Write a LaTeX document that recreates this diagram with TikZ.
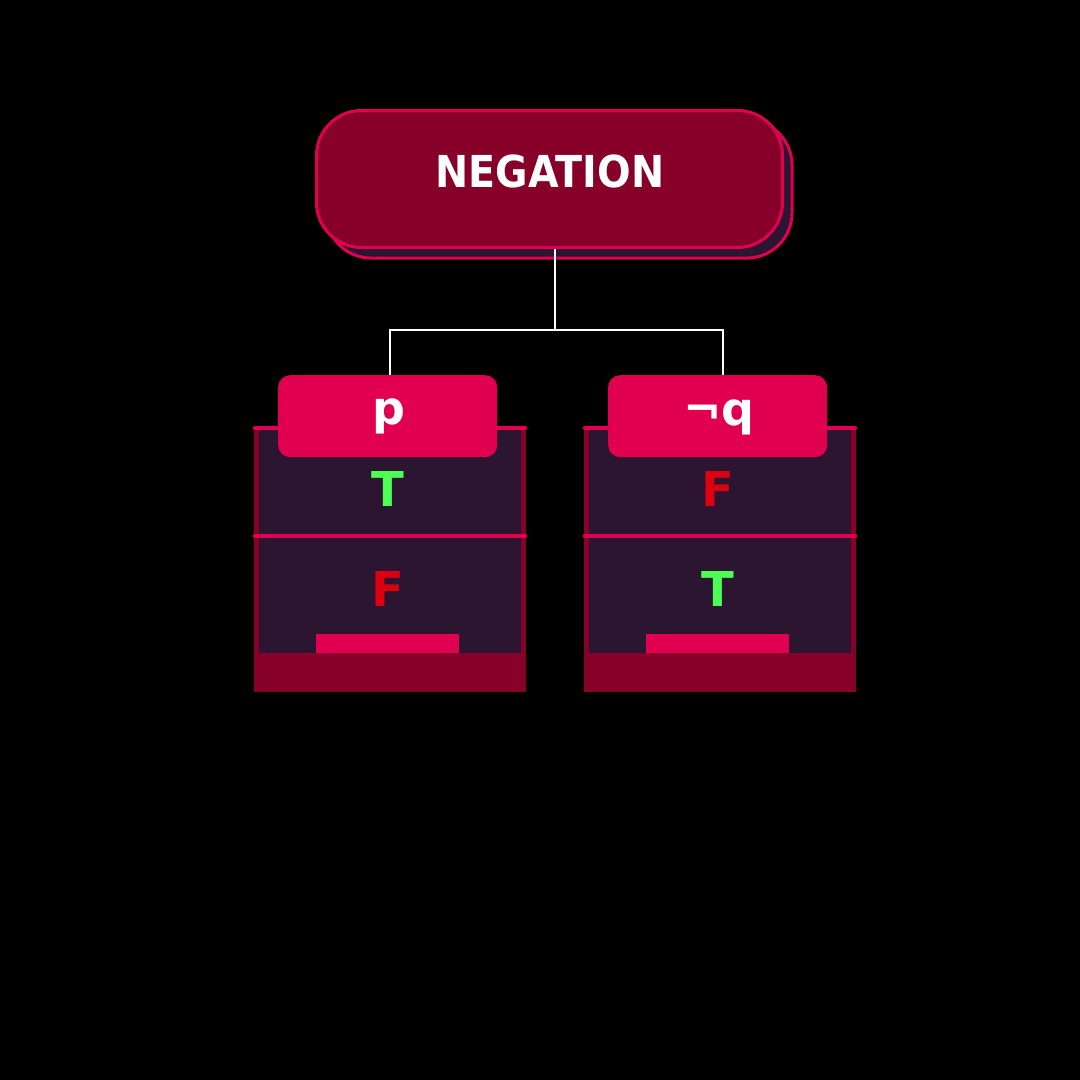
\documentclass[tikz,border=0pt]{standalone}
\usepackage{fontspec}
\newfontfamily\djb{DejaVu Sans}
\definecolor{crim}{HTML}{E0004F}
\definecolor{dred}{HTML}{86002A}
\definecolor{dpur}{HTML}{2C1530}
\definecolor{tgreen}{HTML}{4DFF55}
\definecolor{fred}{HTML}{DD0010}
\tikzset{
  wire/.style={draw=white, line width=2.5},
  headbox/.style={fill=crim, rounded corners=12, minimum width=219, minimum height=82, inner sep=0, anchor=north west},
  headtxt/.style={text=white, font=\djb\bfseries\fontsize{46}{46}\selectfont, inner sep=0},
  valT/.style={text=tgreen, font=\djb\bfseries\fontsize{48}{48}\selectfont, inner sep=0},
  valF/.style={text=fred, font=\djb\bfseries\fontsize{48}{48}\selectfont, inner sep=0},
  rule/.style={draw=crim, line width=4.5, line cap=round}
}
\begin{document}
\begin{tikzpicture}[x=1pt,y=-1pt]
\fill[black] (0,0) rectangle (1080,1080);
\useasboundingbox (0,0) rectangle (1080,1080);
% title
\draw[crim, line width=3, fill=dpur, rounded corners=45] (326,120) rectangle (792,258);
\node[draw=crim, line width=3, fill=dred, rounded corners=45, minimum width=466, minimum height=137, inner sep=0, anchor=north west] (title) at (315,109) {};
\node[text=white, font=\djb\bfseries\fontsize{44}{44}\selectfont, inner sep=0, xscale=0.9] (titletxt) at (550,171) {NEGATION};
% tables
\foreach \o in {0,330}{
  \fill[dpur] (254+\o,428) rectangle (526+\o,653);
  \fill[dred] (254+\o,653) rectangle (526+\o,692);
  \fill[dred] (254+\o,428) rectangle (259+\o,653);
  \fill[dred] (521+\o,428) rectangle (526+\o,653);
  \draw[rule] (255+\o,428) -- (525+\o,428);
  \draw[rule] (255+\o,536) -- (525+\o,536);
  \fill[crim] (316+\o,634) rectangle (459+\o,653);
}
% connectors
\coordinate (j) at (555,330);
\coordinate (jl) at (390,330);
\coordinate (jr) at (723,330);
\draw[wire] (title.south -| j) -- (j);
\draw[wire, line cap=rect] (jl) -- (jr);
% headers
\node[headbox] (hp) at (278,375) {};
\node[headbox] (hq) at (608,375) {};
\draw[wire] (jl) -- (jl |- hp.north);
\draw[wire] (jr) -- (jr |- hq.north);
\node[headtxt] (ptxt) at (389,416) {p};
\node[headtxt] (qtxt) at (719,417) {¬q};
% values
\node[valT] (t1) at (388,489) {T};
\node[valF] (f1) at (388,589) {F};
\node[valF] (f2) at (718,489) {F};
\node[valT] (t2) at (718,589) {T};
\end{tikzpicture}
\end{document}
